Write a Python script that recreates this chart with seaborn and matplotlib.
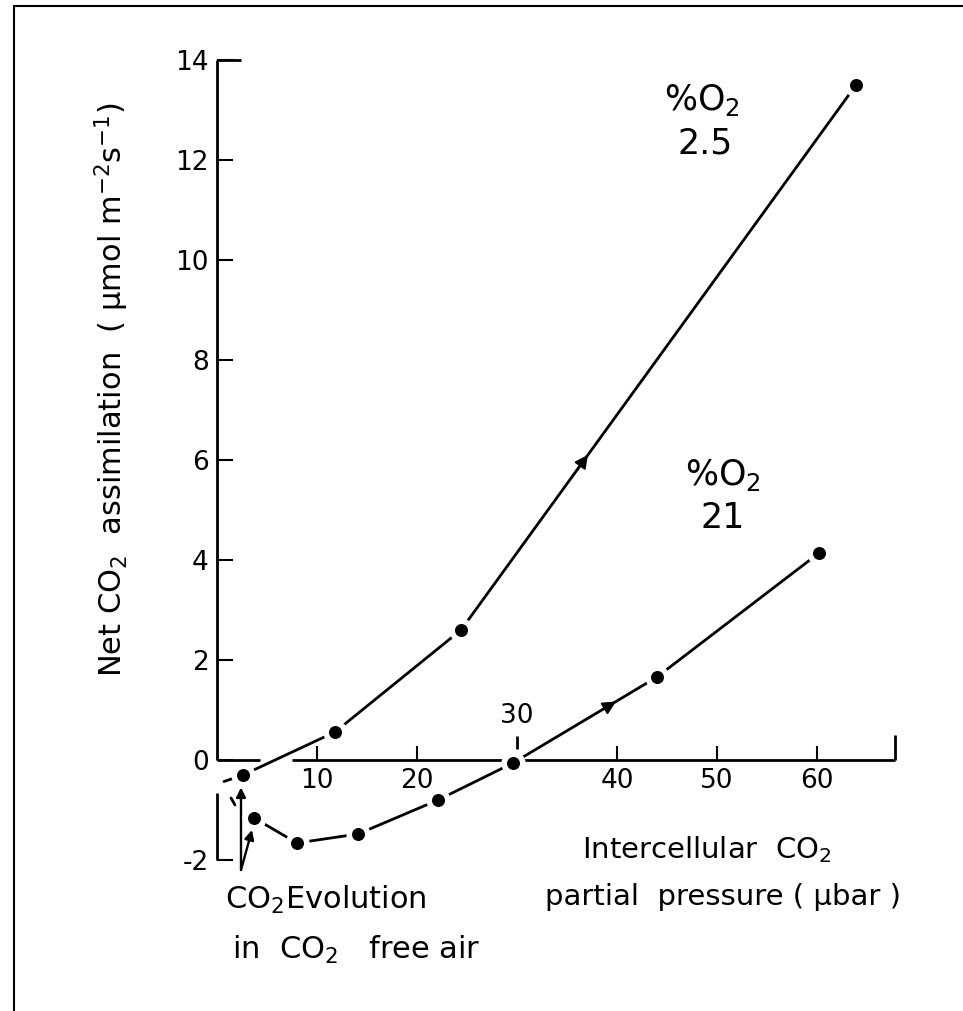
import numpy as np
import pandas as pd
import matplotlib
matplotlib.use("Agg")
import matplotlib.pyplot as plt
import seaborn as sns
from matplotlib.lines import Line2D

# Net CO2 assimilation against intercellular CO2 partial pressure
ci_low_o2 = [2.6, 11.8, 24.4, 63.9]          # 2.5 % O2
a_low_o2 = [-0.3, 0.56, 2.6, 13.5]
ci_air_o2 = [3.7, 8.0, 14.1, 22.1, 29.6, 44.0, 60.2]   # 21 % O2
a_air_o2 = [-1.16, -1.66, -1.48, -0.8, -0.06, 1.66, 4.14]
x_ticks = [10, 20, 40, 50, 60]
y_ticks = [-2, 0, 2, 4, 6, 8, 10, 12, 14]

sns.set_theme(style="white")
plt.rcParams["font.family"] = ["DejaVu Sans"]
plt.rcParams["mathtext.fontset"] = "dejavusans"
plt.rcParams["text.color"] = "black"

W, H = 963, 1011
fig = plt.figure(figsize=(W / 100, H / 100), dpi=100)
fig.patch.set_facecolor("white")
# axes box: x -1..70 -> px 207..917, y 14.6..-2.6 -> px 30..890
ax = fig.add_axes([207 / W, 1 - 890 / H, 710 / W, 860 / H])
ax.set_xlim(-1, 70)
ax.set_ylim(-2.6, 14.6)
ax.set_facecolor("white")

low = pd.DataFrame({"ci": ci_low_o2, "a": a_low_o2})
air = pd.DataFrame({"ci": ci_air_o2, "a": a_air_o2})

LW = 2.0
for df in (low, air):
    sns.lineplot(data=df, x="ci", y="a", ax=ax, color="black", lw=LW,
                 zorder=2, legend=False)
    sns.scatterplot(data=df, x="ci", y="a", ax=ax, color="black", s=180,
                    edgecolor="white", linewidth=4.0, zorder=5, legend=False)

# short extrapolations toward zero CO2
ax.plot([0.7, ci_low_o2[0]], [-0.43, a_low_o2[0]], color="black", lw=LW, zorder=1)
ax.plot([1.4, 1.8], [-0.76, -0.9], color="black", lw=LW, zorder=1)

# direction arrows on the curves
def curve_arrow(xs, ys, x0):
    y0 = np.interp(x0, xs, ys)
    i = np.searchsorted(xs, x0)
    slope = (ys[i] - ys[i - 1]) / (xs[i] - xs[i - 1])
    d = 0.8
    ax.annotate("", xy=(x0 + d, y0 + d * slope), xytext=(x0 - d, y0 - d * slope),
                arrowprops=dict(arrowstyle="-|>", color="black", lw=1.4,
                                mutation_scale=20, shrinkA=0, shrinkB=0),
                zorder=3)

curve_arrow(ci_low_o2, a_low_o2, 36.3)
curve_arrow(ci_air_o2, a_air_o2, 39.1)

# axes drawn as broken lines
for s in ax.spines.values():
    s.set_visible(False)
ax.spines["left"].set_position(("data", 0))
ax.spines["bottom"].set_position(("data", 0))
AX = dict(color="black", lw=2.0, zorder=4, solid_capstyle="butt")
ax.plot([0, 0], [14, 0], **AX)
ax.plot([0, 0], [-0.65, -2], **AX)
ax.plot([0, 4.3], [0, 0], **AX)
ax.plot([7.5, 67.8], [0, 0], **AX)
ax.plot([67.8, 67.8], [0, 0.5], **AX)
ax.plot([0, 2.4], [14, 14], **AX)
ax.plot([30, 30], [0.22, 0.48], **AX)
ax.text(30, 0.62, "30", ha="center", va="bottom", fontsize=19)

ax.set_xticks(x_ticks)
ax.set_yticks(y_ticks)
ax.set_xticklabels([str(v) for v in x_ticks])
ax.set_yticklabels([str(v) for v in y_ticks])
ax.tick_params(axis="x", direction="in", length=10, width=1.5, pad=6,
               labelsize=19, bottom=True, color="black", labelcolor="black")
ax.tick_params(axis="y", direction="in", length=11.5, width=1.5, pad=6,
               labelsize=19, left=True, color="black", labelcolor="black")
ax.set_xlabel("")
ax.set_ylabel("")
ax.grid(False)

# labels and notes
ax.text(48.5, 13.2, "%O$_2$", ha="center", va="center", fontsize=25)
ax.text(48.8, 12.34, "2.5", ha="center", va="center", fontsize=25)
ax.text(50.6, 5.7, "%O$_2$", ha="center", va="center", fontsize=25)
ax.text(50.6, 4.84, "21", ha="center", va="center", fontsize=25)

ax.text(49.0, -1.8, "Intercellular  CO$_2$", ha="center", va="center", fontsize=21)
ax.text(50.6, -2.74, "partial  pressure ( μbar )", ha="center", va="center",
        fontsize=21)

ax.text(0.8, -2.8, "CO$_2$Evolution", ha="left", va="center", fontsize=22)
ax.text(1.5, -3.8, "in  CO$_2$   free air", ha="left", va="center", fontsize=22)

arr = dict(arrowstyle="-|>", color="black", lw=1.7, mutation_scale=14,
           shrinkA=0, shrinkB=0)
ax.annotate("", xy=(2.4, -0.55), xytext=(2.4, -2.2), arrowprops=arr,
            annotation_clip=False)
ax.annotate("", xy=(3.5, -1.4), xytext=(2.4, -2.2), arrowprops=arr,
            annotation_clip=False)

fig.text(112 / W, 1 - 390 / H,
         "Net CO$_2$  assimilation  ( μmol m$^{-2}$s$^{-1}$)",
         rotation=90, ha="center", va="center", fontsize=22)

# page frame
fig.add_artist(Line2D([14 / W, 14 / W], [0, 1 - 6 / H], transform=fig.transFigure,
                      color="black", lw=1.5))
fig.add_artist(Line2D([14 / W, 1], [1 - 6 / H, 1 - 6 / H], transform=fig.transFigure,
                      color="black", lw=1.5))

fig.savefig("out.png", dpi=100, facecolor="white")
